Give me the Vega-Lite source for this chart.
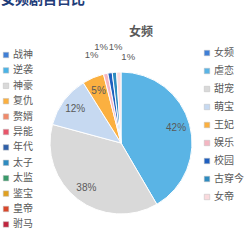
{
  "$schema": "https://vega.github.io/schema/vega-lite/v6.json",
  "width": 242,
  "height": 206,
  "autosize": {"type": "none"},
  "padding": {"left": 0, "top": 40, "right": 7, "bottom": 0},
  "background": "white",
  "title": {"text": "女频", "anchor": "middle", "dx": 20, "dy": 50, "fontSize": 12, "font": "Noto Sans CJK SC", "color": "#595959", "fontWeight": "bold", "offset": 4},
  "config": {"view": {"stroke": null}},
  "datasets": {
    "female": [
      {"genre": "虐恋", "share": 0.42, "rank": 1},
      {"genre": "甜宠", "share": 0.38, "rank": 2},
      {"genre": "萌宝", "share": 0.12, "rank": 3},
      {"genre": "王妃", "share": 0.05, "rank": 4},
      {"genre": "娱乐", "share": 0.01, "rank": 5},
      {"genre": "校园", "share": 0.01, "rank": 6},
      {"genre": "古穿今", "share": 0.01, "rank": 7},
      {"genre": "女帝", "share": 0.01, "rank": 8}
    ],
    "male": [
      {"genre": "战神"}, {"genre": "逆袭"}, {"genre": "神豪"}, {"genre": "复仇"},
      {"genre": "赘婿"}, {"genre": "异能"}, {"genre": "年代"}, {"genre": "太子"},
      {"genre": "太监"}, {"genre": "鉴宝"}, {"genre": "皇帝"}, {"genre": "驸马"}
    ]
  },
  "layer": [
    {
      "data": {"name": "female"},
      "mark": {"type": "arc", "radius": 71, "stroke": "white", "strokeWidth": 1},
      "encoding": {
        "theta": {"field": "share", "type": "quantitative", "stack": true},
        "order": {"field": "rank", "type": "quantitative"},
        "color": {
          "field": "genre", "type": "nominal",
          "scale": {
            "domain": ["女频", "虐恋", "甜宠", "萌宝", "王妃", "娱乐", "校园", "古穿今", "女帝"],
            "range": ["#3f7fd6", "#5ab4e5", "#d9d9d9", "#c6d9f1", "#fbb040", "#f4b6c2", "#1f5fbf", "#2e8bc0", "#fadadd"]
          },
          "legend": {
            "orient": "none", "legendX": 202, "legendY": 8, "title": null,
            "symbolType": "square", "symbolSize": 30, "symbolStrokeColor": "#bfbfbf", "symbolStrokeWidth": 0.5,
            "labelFontSize": 10, "labelColor": "#595959", "labelFont": "Noto Sans CJK SC",
            "rowPadding": 8, "labelOffset": 2, "padding": 0
          }
        }
      }
    },
    {
      "data": {"name": "female"},
      "mark": {"type": "text", "radius": 57, "fontSize": 10, "font": "Liberation Sans", "fill": "#595959"},
      "encoding": {
        "theta": {"field": "share", "type": "quantitative", "stack": true},
        "order": {"field": "rank", "type": "quantitative"},
        "text": {"condition": {"test": "datum.share < 0.03", "value": ""}, "field": "share", "type": "quantitative", "format": ".0%"}
      }
    },
    {
      "data": {"name": "female"},
      "mark": {"type": "text", "radius": 90, "dx": -10, "dy": 0, "fontSize": 9.5, "font": "Liberation Sans", "fill": "#595959"},
      "encoding": {
        "theta": {"field": "share", "type": "quantitative", "stack": true},
        "order": {"field": "rank", "type": "quantitative"},
        "text": {"condition": {"test": "datum.genre !== '娱乐'", "value": ""}, "field": "share", "type": "quantitative", "format": ".0%"}
      }
    },
    {
      "data": {"name": "female"},
      "mark": {"type": "text", "radius": 90, "dx": -6, "dy": -7, "fontSize": 9.5, "font": "Liberation Sans", "fill": "#595959"},
      "encoding": {
        "theta": {"field": "share", "type": "quantitative", "stack": true},
        "order": {"field": "rank", "type": "quantitative"},
        "text": {"condition": {"test": "datum.genre !== '校园'", "value": ""}, "field": "share", "type": "quantitative", "format": ".0%"}
      }
    },
    {
      "data": {"name": "female"},
      "mark": {"type": "text", "radius": 90, "dx": 3, "dy": -6, "fontSize": 9.5, "font": "Liberation Sans", "fill": "#595959"},
      "encoding": {
        "theta": {"field": "share", "type": "quantitative", "stack": true},
        "order": {"field": "rank", "type": "quantitative"},
        "text": {"condition": {"test": "datum.genre !== '古穿今'", "value": ""}, "field": "share", "type": "quantitative", "format": ".0%"}
      }
    },
    {
      "data": {"name": "female"},
      "mark": {"type": "text", "radius": 90, "dx": 10, "dy": 4, "fontSize": 9.5, "font": "Liberation Sans", "fill": "#595959"},
      "encoding": {
        "theta": {"field": "share", "type": "quantitative", "stack": true},
        "order": {"field": "rank", "type": "quantitative"},
        "text": {"condition": {"test": "datum.genre !== '女帝'", "value": ""}, "field": "share", "type": "quantitative", "format": ".0%"}
      }
    },
    {
      "data": {"name": "male"},
      "mark": {"type": "point", "opacity": 0},
      "encoding": {
        "fill": {
          "field": "genre", "type": "nominal",
          "scale": {
            "domain": ["战神", "逆袭", "神豪", "复仇", "赘婿", "异能", "年代", "太子", "太监", "鉴宝", "皇帝", "驸马"],
            "range": ["#3f7fd6", "#4bb3e6", "#d9d9d9", "#fbb040", "#f08a6b", "#e8556a", "#2f5fa8", "#2e8bc0", "#3a9a6a", "#e0a020", "#d9472b", "#c0243e"]
          },
          "legend": {
            "orient": "none", "legendX": 1, "legendY": -47,
            "title": "女频剧目占比", "titleFontSize": 14, "titleFontWeight": "bold", "titleColor": "#1f3d7a",
            "titleFont": "Noto Sans CJK SC", "titleBaseline": "top", "titlePadding": 43, "titleLimit": 300,
            "symbolType": "square", "symbolSize": 30, "symbolOpacity": 1, "symbolStrokeColor": "#bfbfbf", "symbolStrokeWidth": 0.5,
            "labelFontSize": 10, "labelColor": "#595959", "labelFont": "Noto Sans CJK SC",
            "rowPadding": 5.4, "labelOffset": 2, "padding": 0
          }
        }
      }
    }
  ]
}
